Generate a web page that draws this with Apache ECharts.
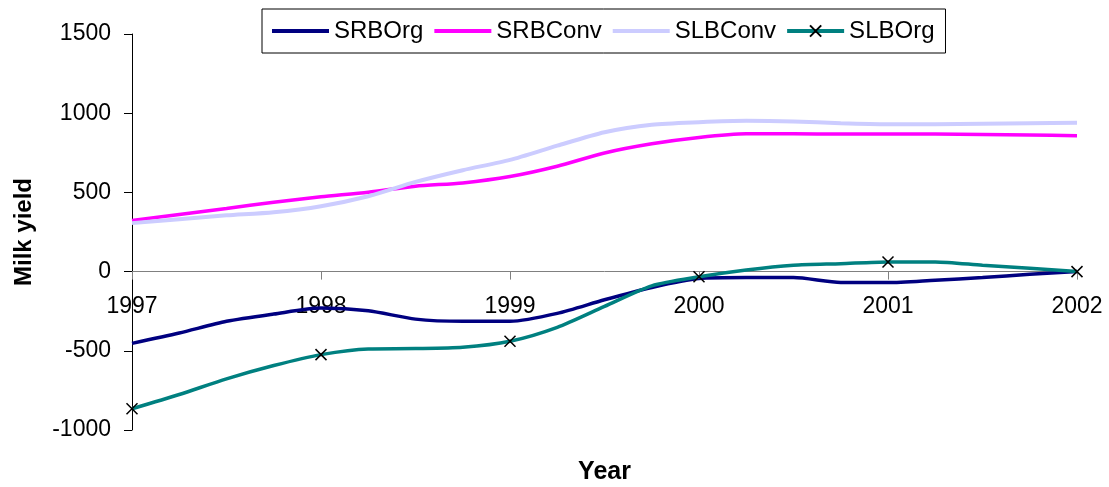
<!DOCTYPE html>
<html>
<head>
<meta charset="utf-8">
<script src="https://cdn.jsdelivr.net/npm/echarts@6/dist/echarts.min.js"></script>
<style>
  html, body { margin: 0; padding: 0; background: #fff; }
  #chart { width: 1109px; height: 487px; }
</style>
</head>
<body>
<div id="chart"></div>
<script>
// Years shown on the axis, and the quarterly sampling of the yield curves
const years = [1997, 1998, 1999, 2000, 2001, 2002];
const quarters = [
  1997, 1997.25, 1997.5, 1997.75,
  1998, 1998.25, 1998.5, 1998.75,
  1999, 1999.25, 1999.5, 1999.75,
  2000, 2000.25, 2000.5, 2000.75,
  2001, 2001.25, 2001.5, 2001.75,
  2002
];

// Milk yield per series, one value per quarter
const srbOrg  = [-453, -388, -314, -268, -230, -247, -300, -314, -314, -264, -178, -100, -44, -38, -38, -69, -69, -54, -38, -17, 0];
const srbConv = [323, 361, 399, 438, 472, 501, 539, 560, 600, 665, 749, 807, 847, 870, 870, 868, 868, 868, 866, 862, 858];
const slbConv = [306, 331, 355, 375, 413, 476, 566, 640, 705, 795, 880, 927, 943, 952, 948, 937, 931, 931, 934, 937, 940];
const slbOrg  = [-866, -776, -677, -593, -524, -488, -486, -478, -440, -352, -220, -90, -33, 10, 40, 50, 61, 61, 40, 21, 0];

const FONT = "'Liberation Sans', Arial, sans-serif";
const CROSS = 'path://M0,0L10,10M10,0L0,10';
const NO_FILL = 'rgba(0,0,0,0)';

function pairs(values) {
  return quarters.map((q, i) => [q, values[i]]);
}

// Markers only on whole years
function yearlyMarked(values) {
  return quarters.map((q, i) =>
    years.includes(q) ? [q, values[i]] : { value: [q, values[i]], symbol: 'none' }
  );
}

function plainLine(name, color, width, values) {
  return {
    name, type: 'line', smooth: 0.25, symbol: 'none',
    lineStyle: { color, width },
    // keeps the legend entry a bare line
    itemStyle: { color: NO_FILL, borderColor: NO_FILL, borderWidth: 0 },
    data: pairs(values)
  };
}

const chart = echarts.init(document.getElementById('chart'), null, { renderer: 'canvas' });

chart.setOption({
  animation: false,
  backgroundColor: '#fff',
  textStyle: { fontFamily: FONT, color: '#000' },
  grid: { left: 132, right: 32, top: 34, bottom: 57, containLabel: false, outerBoundsMode: 'none' },
  legend: {
    left: 262,
    top: 9,
    padding: [7, 11, 7, 8],
    itemGap: 9,
    itemWidth: 57,
    itemHeight: 14,
    borderColor: '#000',
    borderWidth: 1,
    lineStyle: { width: 4 },
    textStyle: { fontFamily: FONT, fontSize: 24, color: '#000', lineHeight: 30 },
    data: ['SRBOrg', 'SRBConv', 'SLBConv', 'SLBOrg']
  },
  xAxis: {
    type: 'value',
    min: 1997,
    max: 2002,
    interval: 1,
    name: 'Year',
    nameLocation: 'middle',
    nameGap: 30,
    nameTextStyle: { fontFamily: FONT, fontSize: 25, fontWeight: 'bold', color: '#000' },
    axisLine: { onZero: true, lineStyle: { color: '#808080', width: 1 } },
    axisTick: { show: true, length: 8, inside: false, lineStyle: { color: '#808080' } },
    // year labels sit just under the zero line, measured from the plot's bottom edge
    axisLabel: {
      fontFamily: FONT, fontSize: 23, color: '#000', margin: -135,
      formatter: v => String(v)
    },
    splitLine: { show: false }
  },
  yAxis: {
    type: 'value',
    min: -1000,
    max: 1500,
    interval: 500,
    name: 'Milk yield',
    nameLocation: 'middle',
    nameGap: 96,
    nameTextStyle: { fontFamily: FONT, fontSize: 24, fontWeight: 'bold', color: '#000' },
    axisLine: { show: true, onZero: false, lineStyle: { color: '#000', width: 1 } },
    axisTick: { show: true, length: 8, inside: false, lineStyle: { color: '#000' } },
    axisLabel: { fontFamily: FONT, fontSize: 23, color: '#000', margin: 21, formatter: v => String(v) },
    splitLine: { show: false }
  },
  series: [
    plainLine('SRBOrg', '#000080', 3.5, srbOrg),
    plainLine('SRBConv', '#FF00FF', 3.5, srbConv),
    plainLine('SLBConv', '#CCCCFF', 4, slbConv),
    {
      name: 'SLBOrg', type: 'line', smooth: 0.25,
      symbol: CROSS, symbolSize: 11, showAllSymbol: true,
      lineStyle: { color: '#008080', width: 3.5 },
      itemStyle: { color: '#000', borderColor: '#000', borderWidth: 1.5 },
      data: yearlyMarked(slbOrg)
    }
  ]
});
</script>
</body>
</html>
